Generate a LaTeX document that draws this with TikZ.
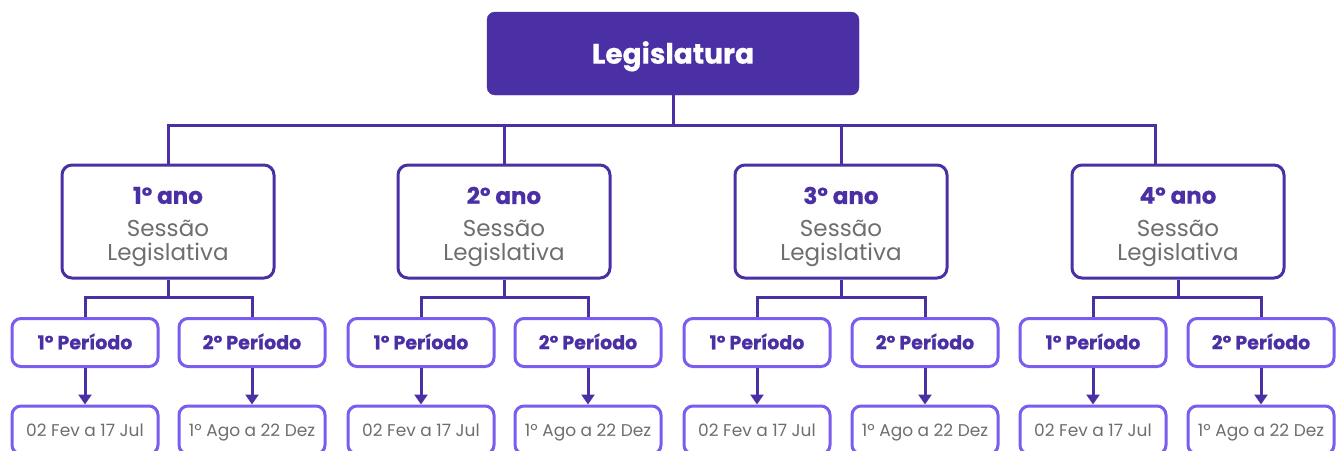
\documentclass[tikz,border=0pt]{standalone}
\usepackage{fontspec}
\setmainfont{Poppins}[BoldFeatures={FakeBold=0.6}]
\usetikzlibrary{arrows.meta}
\definecolor{dp}{HTML}{4B30A5}
\definecolor{lp}{HTML}{7A5CF0}
\definecolor{gr}{HTML}{6E6E6E}
\tikzset{
  x=1pt,y=-1pt,
  topbox/.style={fill=dp,draw=dp,rounded corners=8pt,minimum width=372pt,minimum height=83pt,inner sep=0pt,
    text=white,font=\fontsize{28}{32}\selectfont\bfseries,text height=27pt,text depth=6.7pt},
  yearbox/.style={draw=dp,line width=3pt,rounded corners=10pt,minimum width=212pt,minimum height=113pt,inner sep=0pt,
    fill=white},
  yeartxt/.style={align=center,inner sep=0pt,font=\fontsize{23}{24}\selectfont},
  perbox/.style={draw=lp,line width=3pt,rounded corners=9pt,minimum width=146pt,minimum height=48pt,inner sep=0pt,
    text=dp,font=\fontsize{19}{22}\selectfont\bfseries,text height=17.5pt,text depth=4pt},
  datebox/.style={draw=lp,line width=3pt,rounded corners=9pt,minimum width=146pt,minimum height=48pt,inner sep=0pt,
    text=gr,font=\fontsize{17}{20}\selectfont,text height=16pt,text depth=3.5pt},
  conn/.style={draw=dp,line width=3pt},
  arr/.style={draw=dp,line width=3pt,-{Triangle[width=13pt,length=10pt]}},
}
\newcommand{\yeartext}[1]{{\bfseries\color{dp}#1}\\[9pt]{\color{gr}Sessão}\\{\color{gr}Legislativa}}
\begin{document}
\begin{tikzpicture}
\clip (0,0) rectangle (1338,450);
\fill[white] (0,0) rectangle (1338,450);
\node[topbox] (L) at (673,53.5) {Legislatura};
\coordinate (bus) at (0,125);
\coordinate (k4) at (1155,0);

\foreach \i/\x in {1/168, 2/504, 3/841, 4/1178}{
  \node[yearbox] (y\i) at (\x,221.5) {};
  \node[yeartxt] (t\i) at (\x,227) {\yeartext{\i º ano}};
}

\draw[conn] (L.south) -- (L.south |- bus);
\draw[conn] (y1.north) -- (y1.north |- bus) -- (k4 |- bus) -- (k4 |- y4.north);
\draw[conn] (y2.north) -- (y2.north |- bus);
\draw[conn] (y3.north) -- (y3.north |- bus);

\foreach \i/\a/\b in {1/85/252, 2/421/588, 3/757/925, 4/1093/1261}{
  \node[perbox] (p\i a) at (\a,342.5) {1º Período};
  \node[perbox] (p\i b) at (\b,342.5) {2º Período};
  \node[datebox] (d\i a) at (\a,430) {02 Fev a 17 Jul};
  \node[datebox] (d\i b) at (\b,430) {1º Ago a 22 Dez};
  \coordinate (j\i) at (0,297);
  \draw[conn] (y\i.south) -- (y\i.south |- j\i);
  \draw[conn] (p\i a.north) -- (p\i a.north |- j\i) -- (p\i b.north |- j\i) -- (p\i b.north);
  \draw[arr] (p\i a.south) -- (d\i a.north);
  \draw[arr] (p\i b.south) -- (d\i b.north);
}
\end{tikzpicture}
\end{document}
